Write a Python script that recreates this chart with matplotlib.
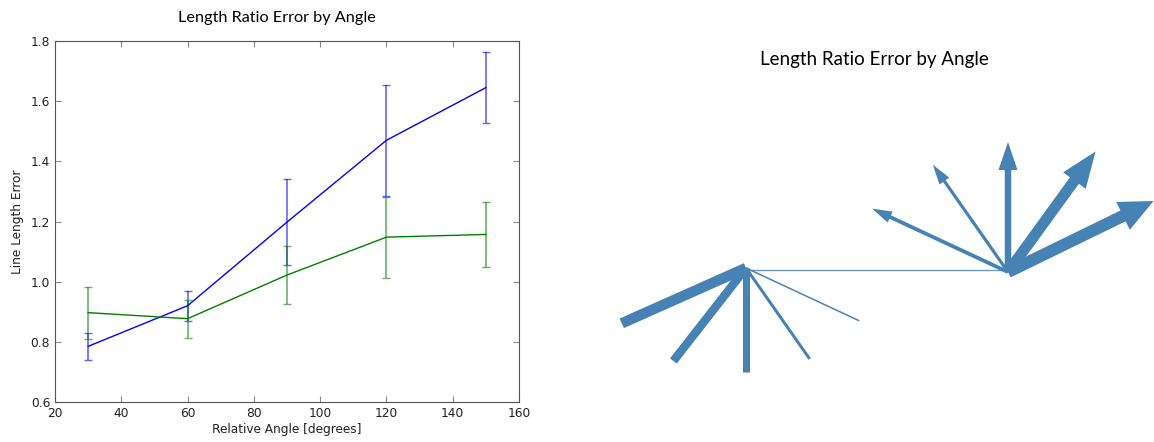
import numpy as np
import matplotlib
matplotlib.use('Agg')
import matplotlib.pyplot as plt
from matplotlib.patches import FancyArrow

# left panel data
angles = [30, 60, 90, 120, 150]
blue_mean = [0.785, 0.920, 1.198, 1.470, 1.645]
blue_err = [0.045, 0.050, 0.142, 0.184, 0.117]
green_mean = [0.897, 0.877, 1.022, 1.148, 1.157]
green_err = [0.086, 0.063, 0.096, 0.135, 0.108]
x_ticks = [20, 40, 60, 80, 100, 120, 140, 160]
y_ticks = [0.6, 0.8, 1.0, 1.2, 1.4, 1.6, 1.8]

# right panel diagram (pixel space, y down)
left_hub = (746, 268)
right_hub = (1008, 272)
left_dirs = [204, 232, 270, 305, 335]
left_lengths = [136, 118, 104, 111, 125]
left_widths = [10.5, 8.5, 7, 3, 1.5]
right_dirs = [155, 125, 90, 54, 26]
right_lengths = [150, 131, 130, 149, 162]
right_widths = [3.8, 3.2, 6.5, 11, 12]
right_head_w = [12, 12, 19, 28, 31]
right_head_l = [20, 20, 28, 36, 34]

W, H = 1154, 442
fig = plt.figure(figsize=(W / 100, H / 100), dpi=100)

ax = fig.add_axes([55 / W, 1 - 402 / H, 464 / W, 361 / H])
ax.errorbar(angles, blue_mean, yerr=blue_err, color='b', ecolor=(0, 0, 1, 0.6),
            capsize=3, capthick=1, elinewidth=1.2, lw=1)
ax.errorbar(angles, green_mean, yerr=green_err, color='g', ecolor=(0, 0.5, 0, 0.6),
            capsize=3, capthick=1, elinewidth=1.2, lw=1)
ax.set_xlim(20, 160)
ax.set_ylim(0.6, 1.8)
ax.set_xticks(x_ticks)
ax.set_yticks(y_ticks)
ax.set_yticklabels(['%.1f' % v for v in y_ticks])
ax.tick_params(direction='in', top=True, right=True, labelsize=8.8, length=4,
               color='#888888', labelcolor='#222222')
for s in ax.spines.values():
    s.set_color('#555555')
ax.set_xlabel('Relative Angle [degrees]', fontsize=8.7, color='#222222', labelpad=2)
ax.set_ylabel('Line Length Error', fontsize=8.7, color='#222222', labelpad=5)

fig.text(277 / W, 1 - 18 / H, 'Length Ratio Error by Angle', family='Lato',
         fontsize=11.7, ha='center', va='center')

# diagram
ax2 = fig.add_axes([560 / W, 0, (W - 560) / W, 1])
ax2.set_xlim(560, W)
ax2.set_ylim(H, 0)
ax2.axis('off')
col = '#4682b4'

ax2.plot([left_hub[0], right_hub[0]], [270, 270], color=col, alpha=0.8, lw=1.0)
for a, L, w in zip(left_dirs, left_lengths, left_widths):
    t = np.deg2rad(a)
    ax2.plot([left_hub[0], left_hub[0] + L * np.cos(t)],
             [left_hub[1], left_hub[1] - L * np.sin(t)],
             color=col, lw=w * 0.72, solid_capstyle='butt')
for a, L, w, hw, hl in zip(right_dirs, right_lengths, right_widths, right_head_w, right_head_l):
    t = np.deg2rad(a)
    ax2.add_patch(FancyArrow(right_hub[0], right_hub[1], L * np.cos(t), -L * np.sin(t),
                             width=w, head_width=hw, head_length=hl,
                             length_includes_head=True, color=col, lw=0))

fig.text(874 / W, 1 - 60 / H, 'Length Ratio Error by Angle', family='Lato',
         fontsize=13.5, ha='center', va='center')

fig.savefig('out.png', dpi=100)
